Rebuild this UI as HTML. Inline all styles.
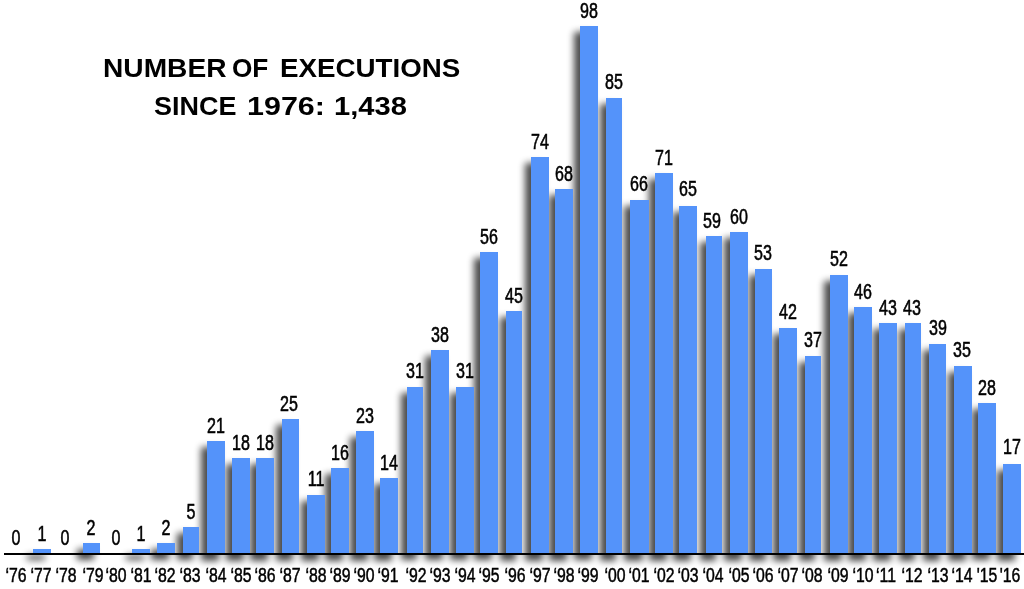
<!DOCTYPE html>
<html><head><meta charset="utf-8"><title>Number of Executions Since 1976</title>
<style>
html,body{margin:0;padding:0;background:#fff;}
body{width:1024px;height:589px;position:relative;overflow:hidden;font-family:"Liberation Sans",sans-serif;color:#000;}
#sh{position:absolute;left:0;top:0;width:1024px;height:589px;opacity:.7;filter:blur(3.5px);}
.s{position:absolute;background:#000;}
.b{position:absolute;background:#5493fa;}
.ax{position:absolute;left:4.1px;top:553px;width:1020px;height:2px;background:#000;}
.v,.y{position:absolute;white-space:nowrap;text-align:center;width:60px;margin-left:-30px;line-height:1;}
.v{font-size:21.3px;transform:scaleX(.755);-webkit-text-stroke:.55px #000;}
.y{font-size:20px;transform:scaleX(.79);top:564.7px;-webkit-text-stroke:.5px #000;}
.t{position:absolute;font-weight:bold;font-size:26.6px;white-space:nowrap;line-height:1;transform-origin:0 0;}
</style></head><body>

<div id="sh">
<div class="s" style="left:26.70px;top:555.30px;width:18.20px;height:5.20px"></div>
<div class="s" style="left:77.20px;top:549.40px;width:16.40px;height:11.10px"></div>
<div class="s" style="left:126.00px;top:555.30px;width:18.25px;height:5.20px"></div>
<div class="s" style="left:150.75px;top:549.40px;width:18.15px;height:11.10px"></div>
<div class="s" style="left:177.00px;top:533.10px;width:16.00px;height:27.40px"></div>
<div class="s" style="left:201.40px;top:447.25px;width:17.85px;height:113.25px"></div>
<div class="s" style="left:225.75px;top:464.00px;width:18.15px;height:96.50px"></div>
<div class="s" style="left:250.10px;top:464.00px;width:18.15px;height:96.50px"></div>
<div class="s" style="left:276.40px;top:425.00px;width:16.60px;height:135.50px"></div>
<div class="s" style="left:300.75px;top:500.50px;width:18.15px;height:60.00px"></div>
<div class="s" style="left:325.10px;top:474.00px;width:18.15px;height:86.50px"></div>
<div class="s" style="left:349.75px;top:437.25px;width:17.85px;height:123.25px"></div>
<div class="s" style="left:374.10px;top:484.00px;width:17.90px;height:76.50px"></div>
<div class="s" style="left:400.75px;top:392.80px;width:16.00px;height:167.70px"></div>
<div class="s" style="left:424.90px;top:356.10px;width:18.10px;height:204.40px"></div>
<div class="s" style="left:449.50px;top:392.80px;width:18.10px;height:167.70px"></div>
<div class="s" style="left:473.75px;top:258.30px;width:18.25px;height:302.20px"></div>
<div class="s" style="left:500.00px;top:317.00px;width:16.00px;height:243.50px"></div>
<div class="s" style="left:524.75px;top:163.00px;width:18.15px;height:397.50px"></div>
<div class="s" style="left:549.10px;top:195.25px;width:17.90px;height:365.25px"></div>
<div class="s" style="left:573.75px;top:32.20px;width:17.85px;height:528.30px"></div>
<div class="s" style="left:600.00px;top:103.50px;width:15.90px;height:457.00px"></div>
<div class="s" style="left:624.25px;top:205.50px;width:18.25px;height:355.00px"></div>
<div class="s" style="left:649.00px;top:179.00px;width:17.70px;height:381.50px"></div>
<div class="s" style="left:673.10px;top:211.75px;width:17.90px;height:348.75px"></div>
<div class="s" style="left:699.75px;top:242.25px;width:16.00px;height:318.25px"></div>
<div class="s" style="left:723.90px;top:238.00px;width:18.10px;height:322.50px"></div>
<div class="s" style="left:748.50px;top:274.75px;width:17.90px;height:285.75px"></div>
<div class="s" style="left:772.90px;top:333.50px;width:17.85px;height:227.00px"></div>
<div class="s" style="left:798.90px;top:361.75px;width:16.10px;height:198.75px"></div>
<div class="s" style="left:823.75px;top:280.50px;width:18.15px;height:280.00px"></div>
<div class="s" style="left:847.90px;top:313.00px;width:18.10px;height:247.50px"></div>
<div class="s" style="left:872.50px;top:329.25px;width:18.10px;height:231.25px"></div>
<div class="s" style="left:899.00px;top:329.25px;width:15.75px;height:231.25px"></div>
<div class="s" style="left:923.10px;top:349.75px;width:16.70px;height:210.75px"></div>
<div class="s" style="left:947.75px;top:371.75px;width:18.15px;height:188.75px"></div>
<div class="s" style="left:971.90px;top:409.30px;width:18.10px;height:151.20px"></div>
<div class="s" style="left:996.50px;top:470.00px;width:18.10px;height:90.50px"></div>
</div>
<div class="ax"></div>
<div class="b" style="left:32.70px;top:549.30px;width:18.20px;height:4.10px"></div>
<div class="b" style="left:83.20px;top:543.40px;width:16.40px;height:10.00px"></div>
<div class="b" style="left:132.00px;top:549.30px;width:18.25px;height:4.10px"></div>
<div class="b" style="left:156.75px;top:543.40px;width:18.15px;height:10.00px"></div>
<div class="b" style="left:183.00px;top:527.10px;width:16.00px;height:26.30px"></div>
<div class="b" style="left:207.40px;top:441.25px;width:17.85px;height:112.15px"></div>
<div class="b" style="left:231.75px;top:458.00px;width:18.15px;height:95.40px"></div>
<div class="b" style="left:256.10px;top:458.00px;width:18.15px;height:95.40px"></div>
<div class="b" style="left:282.40px;top:419.00px;width:16.60px;height:134.40px"></div>
<div class="b" style="left:306.75px;top:494.50px;width:18.15px;height:58.90px"></div>
<div class="b" style="left:331.10px;top:468.00px;width:18.15px;height:85.40px"></div>
<div class="b" style="left:355.75px;top:431.25px;width:17.85px;height:122.15px"></div>
<div class="b" style="left:380.10px;top:478.00px;width:17.90px;height:75.40px"></div>
<div class="b" style="left:406.75px;top:386.80px;width:16.00px;height:166.60px"></div>
<div class="b" style="left:430.90px;top:350.10px;width:18.10px;height:203.30px"></div>
<div class="b" style="left:455.50px;top:386.80px;width:18.10px;height:166.60px"></div>
<div class="b" style="left:479.75px;top:252.30px;width:18.25px;height:301.10px"></div>
<div class="b" style="left:506.00px;top:311.00px;width:16.00px;height:242.40px"></div>
<div class="b" style="left:530.75px;top:157.00px;width:18.15px;height:396.40px"></div>
<div class="b" style="left:555.10px;top:189.25px;width:17.90px;height:364.15px"></div>
<div class="b" style="left:579.75px;top:26.20px;width:17.85px;height:527.20px"></div>
<div class="b" style="left:606.00px;top:97.50px;width:15.90px;height:455.90px"></div>
<div class="b" style="left:630.25px;top:199.50px;width:18.25px;height:353.90px"></div>
<div class="b" style="left:655.00px;top:173.00px;width:17.70px;height:380.40px"></div>
<div class="b" style="left:679.10px;top:205.75px;width:17.90px;height:347.65px"></div>
<div class="b" style="left:705.75px;top:236.25px;width:16.00px;height:317.15px"></div>
<div class="b" style="left:729.90px;top:232.00px;width:18.10px;height:321.40px"></div>
<div class="b" style="left:754.50px;top:268.75px;width:17.90px;height:284.65px"></div>
<div class="b" style="left:778.90px;top:327.50px;width:17.85px;height:225.90px"></div>
<div class="b" style="left:804.90px;top:355.75px;width:16.10px;height:197.65px"></div>
<div class="b" style="left:829.75px;top:274.50px;width:18.15px;height:278.90px"></div>
<div class="b" style="left:853.90px;top:307.00px;width:18.10px;height:246.40px"></div>
<div class="b" style="left:878.50px;top:323.25px;width:18.10px;height:230.15px"></div>
<div class="b" style="left:905.00px;top:323.25px;width:15.75px;height:230.15px"></div>
<div class="b" style="left:929.10px;top:343.75px;width:16.70px;height:209.65px"></div>
<div class="b" style="left:953.75px;top:365.75px;width:18.15px;height:187.65px"></div>
<div class="b" style="left:977.90px;top:403.30px;width:18.10px;height:150.10px"></div>
<div class="b" style="left:1002.50px;top:464.00px;width:18.10px;height:89.40px"></div>
<div class="v" style="left:15.70px;top:528.40px">0</div>
<div class="v" style="left:41.80px;top:523.90px">1</div>
<div class="v" style="left:65.00px;top:528.40px">0</div>
<div class="v" style="left:91.40px;top:518.00px">2</div>
<div class="v" style="left:115.70px;top:528.40px">0</div>
<div class="v" style="left:141.12px;top:523.90px">1</div>
<div class="v" style="left:165.82px;top:518.00px">2</div>
<div class="v" style="left:191.00px;top:501.70px">5</div>
<div class="v" style="left:216.32px;top:415.85px">21</div>
<div class="v" style="left:240.82px;top:432.60px">18</div>
<div class="v" style="left:265.18px;top:432.60px">18</div>
<div class="v" style="left:289.40px;top:393.60px">25</div>
<div class="v" style="left:315.82px;top:469.10px">11</div>
<div class="v" style="left:340.18px;top:442.60px">16</div>
<div class="v" style="left:364.68px;top:405.85px">23</div>
<div class="v" style="left:389.05px;top:452.60px">14</div>
<div class="v" style="left:414.75px;top:361.40px">31</div>
<div class="v" style="left:439.95px;top:324.70px">38</div>
<div class="v" style="left:464.55px;top:361.40px">31</div>
<div class="v" style="left:488.88px;top:226.90px">56</div>
<div class="v" style="left:514.00px;top:285.60px">45</div>
<div class="v" style="left:539.83px;top:131.60px">74</div>
<div class="v" style="left:564.05px;top:163.85px">68</div>
<div class="v" style="left:588.67px;top:0.80px">98</div>
<div class="v" style="left:613.95px;top:72.10px">85</div>
<div class="v" style="left:639.38px;top:174.10px">66</div>
<div class="v" style="left:663.85px;top:147.60px">71</div>
<div class="v" style="left:688.05px;top:179.15px">65</div>
<div class="v" style="left:712.25px;top:210.85px">59</div>
<div class="v" style="left:738.95px;top:206.60px">60</div>
<div class="v" style="left:763.45px;top:243.35px">53</div>
<div class="v" style="left:787.83px;top:302.10px">42</div>
<div class="v" style="left:812.95px;top:330.35px">37</div>
<div class="v" style="left:838.83px;top:249.10px">52</div>
<div class="v" style="left:862.95px;top:281.60px">46</div>
<div class="v" style="left:887.55px;top:297.85px">43</div>
<div class="v" style="left:911.88px;top:297.85px">43</div>
<div class="v" style="left:938.45px;top:318.35px">39</div>
<div class="v" style="left:962.12px;top:340.35px">35</div>
<div class="v" style="left:987.45px;top:377.90px">28</div>
<div class="v" style="left:1011.55px;top:436.60px">17</div>
<div class="y" style="left:16.38px">‘76</div>
<div class="y" style="left:40.88px">‘77</div>
<div class="y" style="left:65.50px">‘78</div>
<div class="y" style="left:92.50px">‘79</div>
<div class="y" style="left:116.00px">‘80</div>
<div class="y" style="left:140.50px">‘81</div>
<div class="y" style="left:165.25px">‘82</div>
<div class="y" style="left:190.25px">‘83</div>
<div class="y" style="left:215.75px">‘84</div>
<div class="y" style="left:240.88px">‘85</div>
<div class="y" style="left:265.25px">‘86</div>
<div class="y" style="left:290.00px">‘87</div>
<div class="y" style="left:315.50px">‘88</div>
<div class="y" style="left:340.00px">‘89</div>
<div class="y" style="left:364.25px">‘90</div>
<div class="y" style="left:388.38px">‘91</div>
<div class="y" style="left:415.88px">‘92</div>
<div class="y" style="left:440.00px">‘93</div>
<div class="y" style="left:464.75px">‘94</div>
<div class="y" style="left:489.12px">‘95</div>
<div class="y" style="left:515.00px">‘96</div>
<div class="y" style="left:539.75px">‘97</div>
<div class="y" style="left:563.75px">‘98</div>
<div class="y" style="left:588.38px">‘99</div>
<div class="y" style="left:615.00px">‘00</div>
<div class="y" style="left:638.62px">‘01</div>
<div class="y" style="left:663.75px">‘02</div>
<div class="y" style="left:688.00px">‘03</div>
<div class="y" style="left:712.50px">‘04</div>
<div class="y" style="left:738.75px">‘05</div>
<div class="y" style="left:763.38px">‘06</div>
<div class="y" style="left:787.50px">‘07</div>
<div class="y" style="left:812.25px">‘08</div>
<div class="y" style="left:838.38px">‘09</div>
<div class="y" style="left:862.75px">‘10</div>
<div class="y" style="left:886.00px">‘11</div>
<div class="y" style="left:911.62px">‘12</div>
<div class="y" style="left:937.50px">‘13</div>
<div class="y" style="left:961.75px">‘14</div>
<div class="y" style="left:986.75px">'15</div>
<div class="y" style="left:1010.12px">'16</div>
<div class="t" style="left:103.32px;top:55.30px;transform:scaleX(1.0581)">NUMBER</div>
<div class="t" style="left:232.49px;top:55.30px;transform:scaleX(0.9842)">OF</div>
<div class="t" style="left:280.10px;top:55.30px;transform:scaleX(1.0425)">EXECUTIONS</div>
<div class="t" style="left:154.45px;top:93.00px;transform:scaleX(1.0140)">SINCE</div>
<div class="t" style="left:246.64px;top:93.00px;transform:scaleX(1.1459)">1976:</div>
<div class="t" style="left:333.74px;top:93.00px;transform:scaleX(1.0951)">1,438</div>
</body></html>
